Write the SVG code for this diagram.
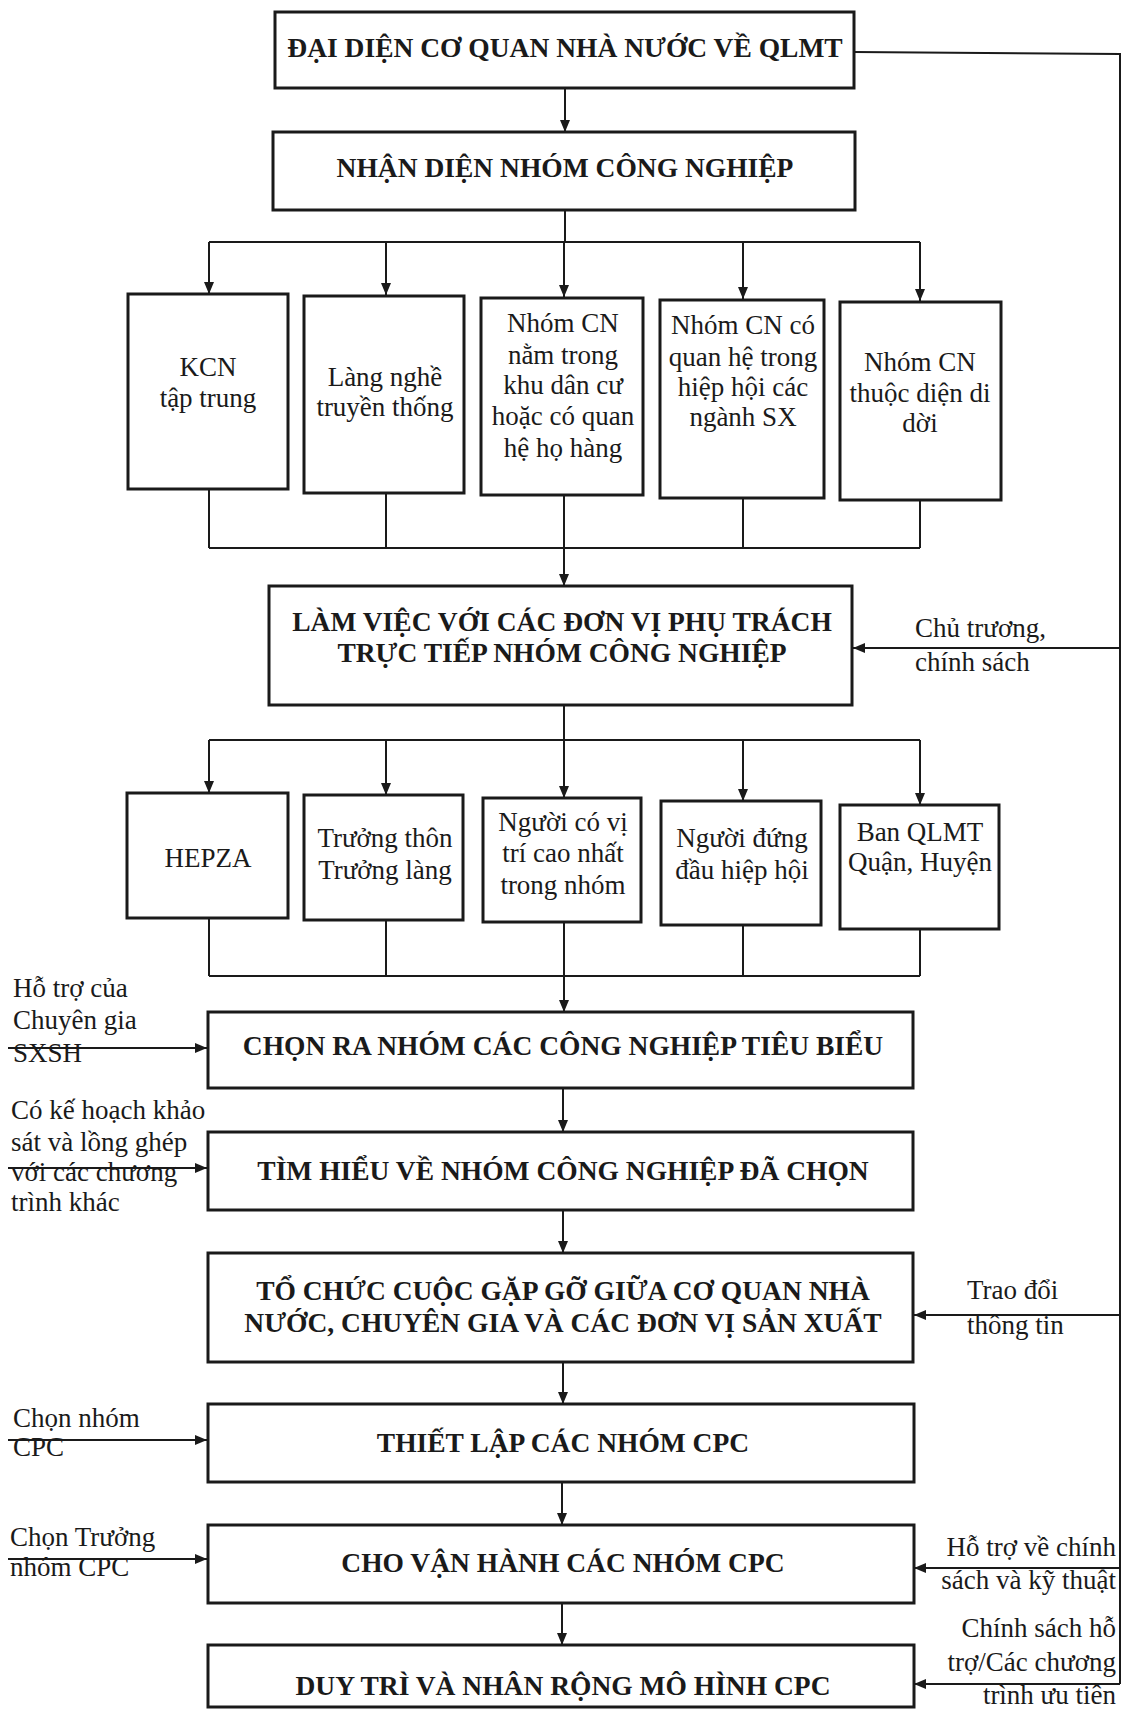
<svg xmlns="http://www.w3.org/2000/svg" width="1123" height="1713" viewBox="0 0 1123 1713">
<style>
  .box { fill: #ffffff; stroke: #1a1a1a; stroke-width: 3; }
  .ln { fill: none; stroke: #1a1a1a; stroke-width: 2; }
  .b { font-family: "Liberation Serif", "Times New Roman", serif; font-weight: bold; font-size: 27.5px; fill: #1a1a1a; text-anchor: middle; }
  .r { font-family: "Liberation Serif", "Times New Roman", serif; font-size: 27px; fill: #1a1a1a; text-anchor: middle; }
  .l { font-family: "Liberation Serif", "Times New Roman", serif; font-size: 27px; fill: #1a1a1a; text-anchor: start; }
  .e { font-family: "Liberation Serif", "Times New Roman", serif; font-size: 27px; fill: #1a1a1a; text-anchor: end; }
</style>
<defs>
  <marker id="ah" viewBox="0 0 12 10" refX="12" refY="5" markerWidth="12" markerHeight="10" markerUnits="userSpaceOnUse" orient="auto">
    <path d="M0,0 L12,5 L0,10 z" fill="#1a1a1a"/>
  </marker>
</defs>
<rect width="1123" height="1713" fill="#ffffff"/>

<g id="connectors">
  <line class="ln" x1="565" y1="88" x2="565" y2="132" marker-end="url(#ah)"/>
  <line class="ln" x1="565" y1="210" x2="565" y2="242"/>
  <line class="ln" x1="209" y1="242" x2="920" y2="242"/>
  <line class="ln" x1="209" y1="242" x2="209" y2="294" marker-end="url(#ah)"/>
  <line class="ln" x1="386" y1="242" x2="386" y2="295" marker-end="url(#ah)"/>
  <line class="ln" x1="564" y1="242" x2="564" y2="297" marker-end="url(#ah)"/>
  <line class="ln" x1="743" y1="242" x2="743" y2="299" marker-end="url(#ah)"/>
  <line class="ln" x1="920" y1="242" x2="920" y2="301" marker-end="url(#ah)"/>
  <line class="ln" x1="209" y1="489" x2="209" y2="548"/>
  <line class="ln" x1="386" y1="493" x2="386" y2="548"/>
  <line class="ln" x1="743" y1="498" x2="743" y2="548"/>
  <line class="ln" x1="920" y1="500" x2="920" y2="548"/>
  <line class="ln" x1="209" y1="548" x2="920" y2="548"/>
  <line class="ln" x1="564" y1="495" x2="564" y2="586" marker-end="url(#ah)"/>
  <line class="ln" x1="564" y1="705" x2="564" y2="740"/>
  <line class="ln" x1="209" y1="740" x2="920" y2="740"/>
  <line class="ln" x1="209" y1="740" x2="209" y2="793" marker-end="url(#ah)"/>
  <line class="ln" x1="386" y1="740" x2="386" y2="795" marker-end="url(#ah)"/>
  <line class="ln" x1="564" y1="740" x2="564" y2="798" marker-end="url(#ah)"/>
  <line class="ln" x1="743" y1="740" x2="743" y2="801" marker-end="url(#ah)"/>
  <line class="ln" x1="920" y1="740" x2="920" y2="805" marker-end="url(#ah)"/>
  <line class="ln" x1="209" y1="918" x2="209" y2="976"/>
  <line class="ln" x1="386" y1="920" x2="386" y2="976"/>
  <line class="ln" x1="743" y1="925" x2="743" y2="976"/>
  <line class="ln" x1="920" y1="929" x2="920" y2="976"/>
  <line class="ln" x1="209" y1="976" x2="920" y2="976"/>
  <line class="ln" x1="564" y1="922" x2="564" y2="1012" marker-end="url(#ah)"/>
  <line class="ln" x1="563" y1="1088" x2="563" y2="1132" marker-end="url(#ah)"/>
  <line class="ln" x1="563" y1="1210" x2="563" y2="1253" marker-end="url(#ah)"/>
  <line class="ln" x1="563" y1="1362" x2="563" y2="1404" marker-end="url(#ah)"/>
  <line class="ln" x1="562" y1="1482" x2="562" y2="1525" marker-end="url(#ah)"/>
  <line class="ln" x1="562" y1="1603" x2="562" y2="1645" marker-end="url(#ah)"/>
  <polyline class="ln" points="854,52 1120,54 1120,1684"/>
  <line class="ln" x1="1120" y1="648" x2="853" y2="648" marker-end="url(#ah)"/>
  <line class="ln" x1="1120" y1="1315" x2="914" y2="1315" marker-end="url(#ah)"/>
  <line class="ln" x1="1120" y1="1568" x2="914" y2="1568" marker-end="url(#ah)"/>
  <line class="ln" x1="1120" y1="1684" x2="914" y2="1684" marker-end="url(#ah)"/>
  <line class="ln" x1="8" y1="1048" x2="207" y2="1048" marker-end="url(#ah)"/>
  <line class="ln" x1="8" y1="1168" x2="207" y2="1168" marker-end="url(#ah)"/>
  <line class="ln" x1="8" y1="1440" x2="207" y2="1440" marker-end="url(#ah)"/>
  <line class="ln" x1="8" y1="1559" x2="207" y2="1559" marker-end="url(#ah)"/>
</g>

<g id="n-dai-dien">
  <rect class="box" x="275" y="12" width="579" height="76"/>
  <text class="b" x="565" y="57">ĐẠI DIỆN CƠ QUAN NHÀ NƯỚC VỀ QLMT</text>
</g>
<g id="n-nhan-dien">
  <rect class="box" x="273" y="132" width="582" height="78"/>
  <text class="b" x="565" y="177">NHẬN DIỆN NHÓM CÔNG NGHIỆP</text>
</g>

<g id="n-kcn">
  <rect class="box" x="128" y="294" width="160" height="195"/>
  <text class="r" x="208" y="376">KCN</text>
  <text class="r" x="208" y="407">tập trung</text>
</g>
<g id="n-lang-nghe">
  <rect class="box" x="304" y="296" width="160" height="197"/>
  <text class="r" x="385" y="386">Làng nghề</text>
  <text class="r" x="385" y="416">truyền thống</text>
</g>
<g id="n-khu-dan-cu">
  <rect class="box" x="481" y="298" width="162" height="197"/>
  <text class="r" x="563" y="332">Nhóm CN</text>
  <text class="r" x="563" y="364">nằm trong</text>
  <text class="r" x="563" y="394">khu dân cư</text>
  <text class="r" x="563" y="425">hoặc có quan</text>
  <text class="r" x="563" y="457">hệ họ hàng</text>
</g>
<g id="n-hiep-hoi">
  <rect class="box" x="660" y="300" width="164" height="198"/>
  <text class="r" x="743" y="334">Nhóm CN có</text>
  <text class="r" x="743" y="366">quan hệ trong</text>
  <text class="r" x="743" y="396">hiệp hội các</text>
  <text class="r" x="743" y="426">ngành SX</text>
</g>
<g id="n-di-doi">
  <rect class="box" x="840" y="302" width="161" height="198"/>
  <text class="r" x="920" y="371">Nhóm CN</text>
  <text class="r" x="920" y="402">thuộc diện di</text>
  <text class="r" x="920" y="432">dời</text>
</g>

<g id="n-lam-viec">
  <rect class="box" x="269" y="586" width="583" height="119"/>
  <text class="b" x="562" y="631">LÀM VIỆC VỚI CÁC ĐƠN VỊ PHỤ TRÁCH</text>
  <text class="b" x="562" y="662">TRỰC TIẾP NHÓM CÔNG NGHIỆP</text>
</g>

<g id="n-hepza">
  <rect class="box" x="127" y="793" width="161" height="125"/>
  <text class="r" x="208" y="867">HEPZA</text>
</g>
<g id="n-truong-thon">
  <rect class="box" x="304" y="795" width="159" height="125"/>
  <text class="r" x="385" y="847">Trưởng thôn</text>
  <text class="r" x="385" y="879">Trưởng làng</text>
</g>
<g id="n-nguoi-co-vi-tri">
  <rect class="box" x="483" y="798" width="158" height="124"/>
  <text class="r" x="563" y="831">Người có vị</text>
  <text class="r" x="563" y="862">trí cao nhất</text>
  <text class="r" x="563" y="894">trong nhóm</text>
</g>
<g id="n-nguoi-dung-dau">
  <rect class="box" x="661" y="801" width="160" height="124"/>
  <text class="r" x="742" y="847">Người đứng</text>
  <text class="r" x="742" y="879">đầu hiệp hội</text>
</g>
<g id="n-ban-qlmt">
  <rect class="box" x="840" y="805" width="159" height="124"/>
  <text class="r" x="920" y="841">Ban QLMT</text>
  <text class="r" x="920" y="871">Quận, Huyện</text>
</g>

<g id="n-chon-ra">
  <rect class="box" x="208" y="1012" width="705" height="76"/>
  <text class="b" x="563" y="1055">CHỌN RA NHÓM CÁC CÔNG NGHIỆP TIÊU BIỂU</text>
</g>
<g id="n-tim-hieu">
  <rect class="box" x="208" y="1132" width="705" height="78"/>
  <text class="b" x="563" y="1180">TÌM HIỂU VỀ NHÓM CÔNG NGHIỆP ĐÃ CHỌN</text>
</g>
<g id="n-to-chuc">
  <rect class="box" x="208" y="1253" width="705" height="109"/>
  <text class="b" x="563" y="1300">TỔ CHỨC CUỘC GẶP GỠ GIỮA CƠ QUAN NHÀ</text>
  <text class="b" x="563" y="1332">NƯỚC, CHUYÊN GIA VÀ CÁC ĐƠN VỊ SẢN XUẤT</text>
</g>
<g id="n-thiet-lap">
  <rect class="box" x="208" y="1404" width="706" height="78"/>
  <text class="b" x="563" y="1452">THIẾT LẬP CÁC NHÓM CPC</text>
</g>
<g id="n-van-hanh">
  <rect class="box" x="208" y="1525" width="706" height="78"/>
  <text class="b" x="563" y="1572">CHO VẬN HÀNH CÁC NHÓM CPC</text>
</g>
<g id="n-duy-tri">
  <rect class="box" x="208" y="1645" width="706" height="62"/>
  <text class="b" x="563" y="1695">DUY TRÌ VÀ NHÂN RỘNG MÔ HÌNH CPC</text>
</g>

<g id="labels">
  <text class="l" x="915" y="637">Chủ trương,</text>
  <text class="l" x="915" y="671">chính sách</text>
  <text class="l" x="13" y="997">Hỗ trợ của</text>
  <text class="l" x="13" y="1029">Chuyên gia</text>
  <text class="l" x="13" y="1062">SXSH</text>
  <text class="l" x="11" y="1119">Có kế hoạch khảo</text>
  <text class="l" x="11" y="1151">sát và lồng ghép</text>
  <text class="l" x="11" y="1181">với các chương</text>
  <text class="l" x="11" y="1211">trình khác</text>
  <text class="l" x="967" y="1299">Trao đổi</text>
  <text class="l" x="967" y="1334">thông tin</text>
  <text class="l" x="13" y="1427">Chọn nhóm</text>
  <text class="l" x="13" y="1456">CPC</text>
  <text class="l" x="10" y="1546">Chọn Trưởng</text>
  <text class="l" x="10" y="1576">nhóm CPC</text>
  <text class="e" x="1116" y="1556">Hỗ trợ về chính</text>
  <text class="e" x="1116" y="1589">sách và kỹ thuật</text>
  <text class="e" x="1116" y="1637">Chính sách hỗ</text>
  <text class="e" x="1116" y="1671">trợ/Các chương</text>
  <text class="e" x="1116" y="1704">trình ưu tiên</text>
</g>
</svg>
